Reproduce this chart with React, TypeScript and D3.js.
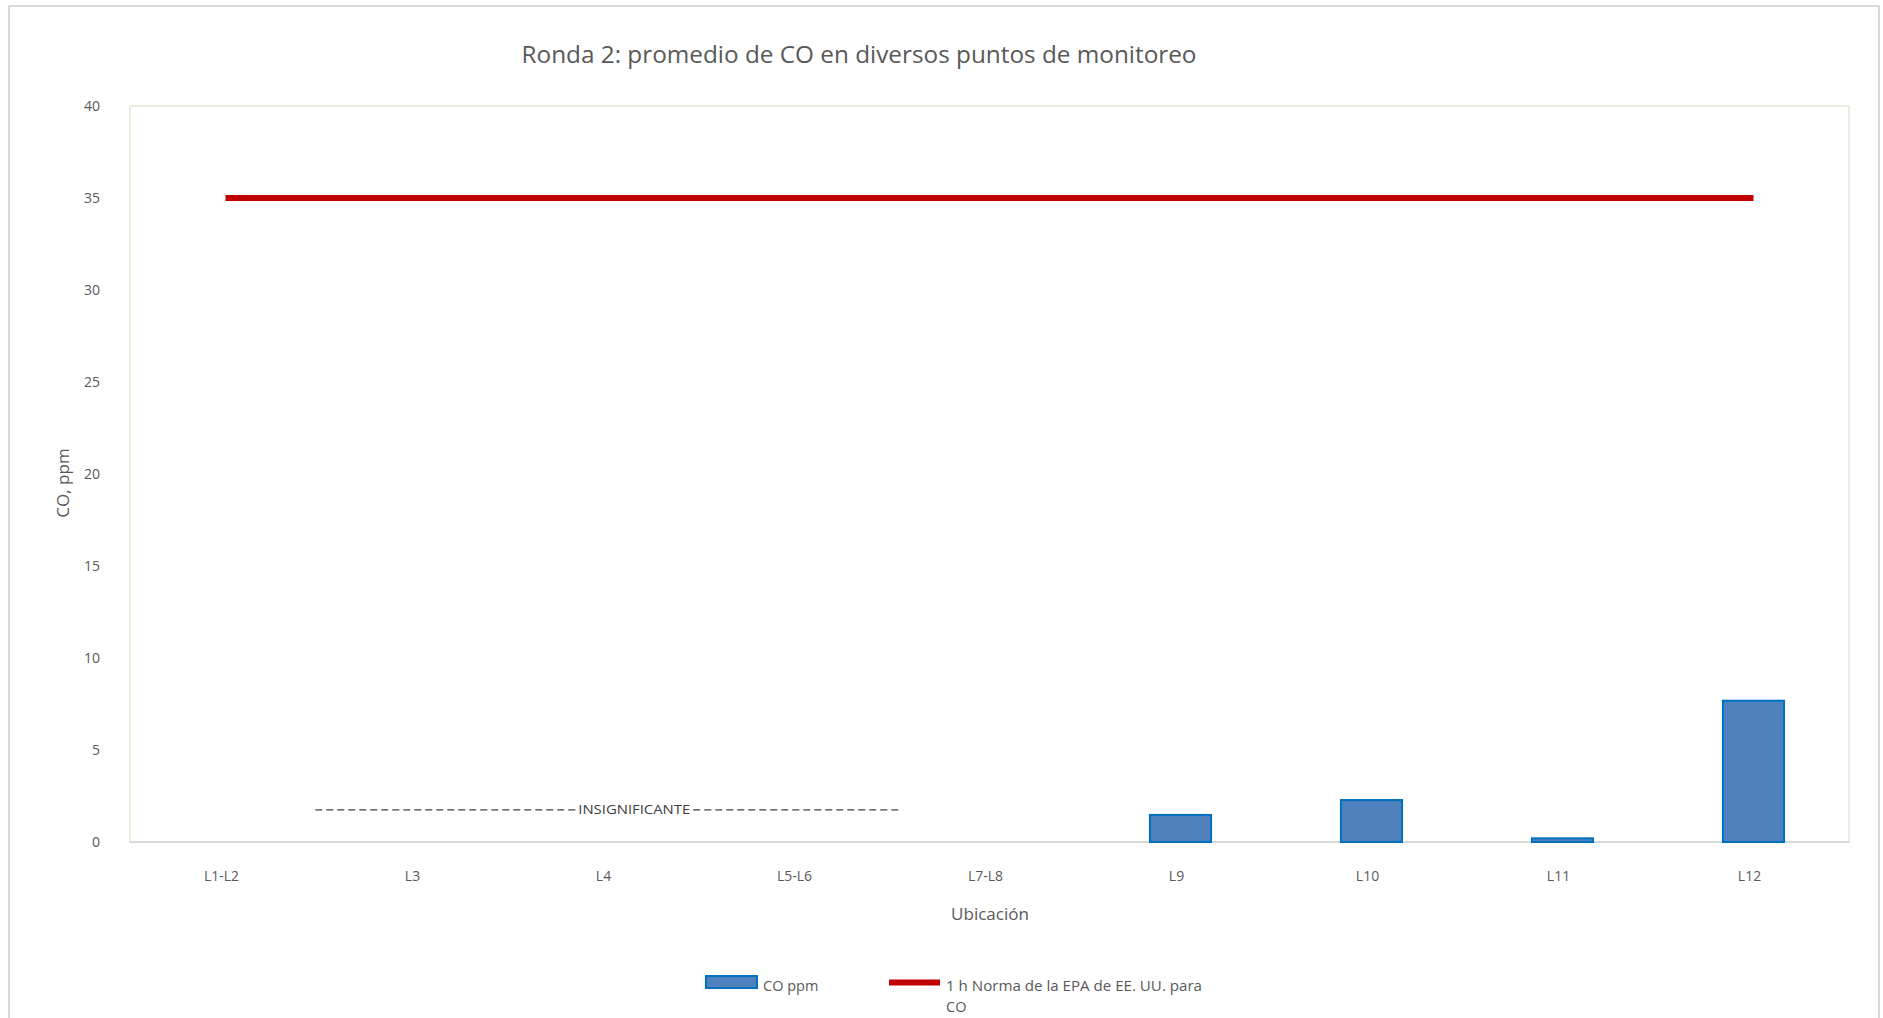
import React from "react";
import * as d3 from "d3";

const categories = ["L1-L2", "L3", "L4", "L5-L6", "L7-L8", "L9", "L10", "L11", "L12"];
const coValues: (number | null)[] = [null, null, null, null, null, 1.47, 2.28, 0.2, 7.68];
const epaStandard = [35, 35, 35, 35, 35, 35, 35, 35, 35];
const yTicks = [0, 5, 10, 15, 20, 25, 30, 35, 40];
const annotation = { from: "L3", to: "L5-L6", value: 1.75, label: "INSIGNIFICANTE" };
const title = "Ronda 2: promedio de CO en diversos puntos de monitoreo";
const xTitle = "Ubicación";
const yTitle = "CO, ppm";
const legendBar = "CO ppm";
const legendLine = ["1 h Norma de la EPA de EE. UU. para", "CO"];

const W = 1883;
const H = 1018;
const FONT = "'Open Sans', 'Noto Sans', sans-serif";
const TXT = "#595959";

export default function App() {
  const left = 130, right = 1849, top = 106, bottom = 842;
  const x = d3.scaleBand<string>().domain(categories).range([left, right]).padding(0);
  const y = d3.scaleLinear().domain([0, 40]).range([bottom, top]);
  const bw = x.bandwidth();
  const barW = bw * 0.32;
  const cx = (c: string) => (x(c) as number) + bw / 2;

  const line = d3
    .line<number>()
    .x((_, i) => cx(categories[i]))
    .y((d) => y(d));

  const aStart = (x(annotation.from) as number) - bw * 0.03;
  const aEnd = (x(annotation.to) as number) + bw * 1.03;
  const aY = y(annotation.value);
  const tStart = aStart + (aEnd - aStart) * 0.45;
  const tW = 112;

  return (
    <svg width={W} height={H} style={{ position: "absolute", left: 0, top: 0, background: "#fff" }} fontFamily={FONT}>
      <rect x={9} y={6} width={1870} height={1040} fill="#fff" stroke="#d9d9d9" strokeWidth={2} />
      <text x={859} y={63} textAnchor="middle" fontSize={23} fill={TXT} textLength={675} lengthAdjust="spacingAndGlyphs">{title}</text>
      <rect x={left} y={top} width={right - left} height={bottom - top} fill="none" stroke="#eeece1" strokeWidth={2} />
      <line x1={left} x2={right} y1={bottom} y2={bottom} stroke="#d9d9d9" strokeWidth={2} />
      {yTicks.map((t) => (
        <text key={t} x={100} y={y(t)} dy="0.35em" textAnchor="end" fontSize={14} fill={TXT}>{t}</text>
      ))}
      {categories.map((c) => (
        <text key={c} x={cx(c) - 4} y={881} textAnchor="middle" fontSize={14} fill={TXT}>{c}</text>
      ))}
      {categories.map((c, i) =>
        coValues[i] == null ? null : (
          <rect key={c} x={cx(c) - barW / 2} y={y(coValues[i] as number)} width={barW}
            height={bottom - y(coValues[i] as number)} fill="#4f81bd" stroke="#0070c0" strokeWidth={2} />
        )
      )}
      <path d={line(epaStandard) || ""} fill="none" stroke="#c00000" strokeWidth={6} />
      <line x1={aStart} x2={tStart - 3} y1={aY} y2={aY} stroke="#404040" strokeWidth={1.3} strokeDasharray="7,4" />
      <line x1={tStart + tW + 3} x2={aEnd} y1={aY} y2={aY} stroke="#404040" strokeWidth={1.3} strokeDasharray="7,4" />
      <text x={tStart} y={aY} dy="0.35em" fontSize={13} fill="#404040" textLength={tW} lengthAdjust="spacingAndGlyphs">{annotation.label}</text>
      <text x={990} y={920} textAnchor="middle" fontSize={17} fill={TXT}>{xTitle}</text>
      <text transform={`translate(69,483) rotate(-90)`} textAnchor="middle" fontSize={17} fill={TXT}>{yTitle}</text>
      <rect x={706} y={976} width={51} height={12} fill="#4f81bd" stroke="#0070c0" strokeWidth={2} />
      <text x={763} y={991} fontSize={14.5} fill={TXT}>{legendBar}</text>
      <text x={946} y={991} fontSize={14.5} fill={TXT} textLength={256} lengthAdjust="spacingAndGlyphs">{legendLine[0]}</text>
      <line x1={889} x2={940} y1={982.5} y2={982.5} stroke="#c00000" strokeWidth={6} />
      <text x={946} y={1012} fontSize={14.5} fill={TXT}>{legendLine[1]}</text>
    </svg>
  );
}
